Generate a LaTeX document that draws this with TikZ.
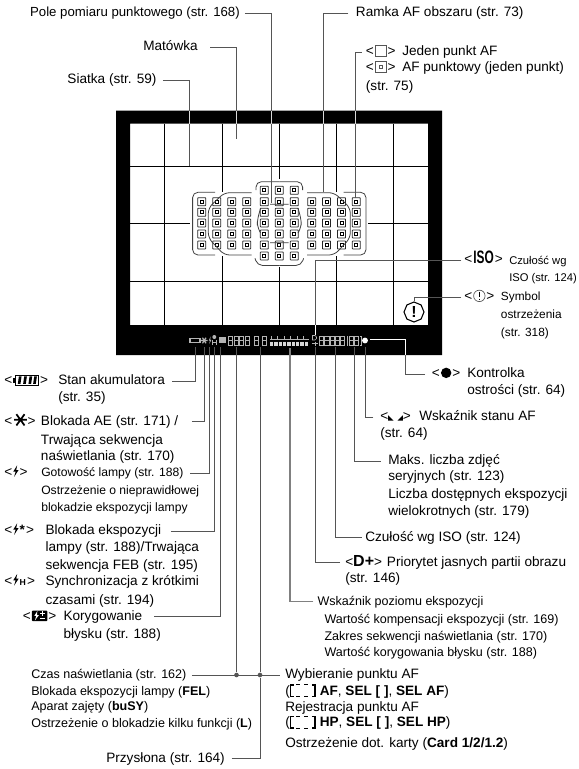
\documentclass[tikz,border=0pt]{standalone}
\usepackage{fontspec}
\setmainfont{Liberation Sans}
\usepackage{xcolor}
\usepackage{tikz}
\usetikzlibrary{shapes.geometric, positioning, calc}

\definecolor{leadgray}{HTML}{555555}
\definecolor{lcdgray}{HTML}{B4B4B4}

% symbols that stand between < and > in the labels
\newcommand{\battsym}{\tikz[baseline=0pt,x=1pt,y=1pt]{\draw[line width=.7pt] (1.5,-.4) rectangle (19,7.2);\fill (0,1.5) rectangle (1.5,5.3);\foreach \bx in {4,8,12,15.5}{\fill (\bx-.6,.6)--(\bx+1.4,.6)--(\bx+2.2,6.2)--(\bx+.2,6.2)--cycle;}}}
\newcommand{\aesym}{\tikz[baseline=0pt,x=1pt,y=1pt]{\draw[line width=1.3pt] (0,4)--(9.5,4) (1.7,8.2)--(7.8,-.2) (7.8,8.2)--(1.7,-.2);}}
\newcommand{\boltsym}{\tikz[baseline=0pt,x=1pt,y=1pt]{\fill (3.5,8.5)--(.6,3.8)--(2.4,3.8)--(1.2,-.2)--(4.6,5)--(2.8,5)--cycle;}}
\newcommand{\fecsym}{\tikz[baseline=0pt,x=1pt,y=1pt]{\fill[rounded corners=.6pt] (0,-.6) rectangle (11.5,7.4);\fill[white] (4,7)--(1.8,3.4)--(3.2,3.4)--(2.2,0)--(5.2,4)--(3.8,4)--cycle;\draw[white,line width=.7pt] (6,5)--(9.6,5) (7.8,3.2)--(7.8,6.8) (6,1.4)--(9.6,1.4);}}
\newcommand{\afsym}{\tikz[baseline=0pt,x=1pt,y=1pt]{\draw[leadgray,line width=.6pt] (0,-.4) rectangle (8,7.6);}}
\newcommand{\afspotsym}{\tikz[baseline=0pt,x=1pt,y=1pt]{\draw[leadgray,line width=.6pt] (0,-.4) rectangle (8,7.6) (2.7,2.3) rectangle (5.3,4.9);}}
\newcommand{\warnsym}{\tikz[baseline=0pt,x=1pt,y=1pt]{\draw[leadgray,line width=.5pt] (4.5,3.6) circle (4.3pt);\draw[line width=1.1pt] (4.5,6.6)--(4.5,2.4) (4.5,1.6)--(4.5,.6);}}
\newcommand{\focsym}{\tikz[baseline=0pt,x=1pt,y=1pt]{\fill (4,3.6) circle (3.9pt);}}
\newcommand{\afstatesym}{\tikz[baseline=0pt,x=1pt,y=1pt]{\fill (1,4)--(1,0)--(5,0)--cycle (8,0)--(12,0)--(12,4)--cycle;}}
\newcommand{\dashbr}{\tikz[baseline=0pt,x=1pt,y=1pt]{\draw[line width=1.2pt] (3,7.6)--(.6,7.6)--(.6,-1)--(3,-1) (16.5,7.6)--(18.9,7.6)--(18.9,-1)--(16.5,-1);\draw[line width=.7pt] (5,7.8)--(7.8,7.8) (11,7.8)--(13.8,7.8) (5,-1.2)--(7.8,-1.2) (11,-1.2)--(13.8,-1.2);}}

\begin{document}
\begin{tikzpicture}[
    x=.75pt, y=-.75pt,
    lbl/.style={anchor=west, inner sep=0pt, text height=8pt, text depth=2.5pt, font=\fontsize{10.2}{12}\selectfont},
    lblsm/.style={lbl, font=\fontsize{9.4}{11}\selectfont},
    lblfl/.style={lbl, font=\fontsize{9.1}{11}\selectfont},
    lblwn/.style={lbl, font=\fontsize{8.9}{10}\selectfont},
    lblxs/.style={lbl, font=\fontsize{8.4}{10}\selectfont},
    nextline/.style args={#1 at #2}{below=#1 of #2.west, anchor=west},
    leader/.style={draw=leadgray, line width=.75pt},
    gridline/.style={draw=black, line width=.75pt},
    afpoint/.style={rectangle, draw=black!85, line width=.6pt, inner sep=0pt, minimum size=6pt, rounded corners=.4pt},
    afcore/.style={rectangle, draw=black, line width=.7pt, inner sep=0pt, minimum size=2.2pt},
    junction/.style={circle, fill=leadgray, inner sep=0pt, minimum size=3.5pt},
    lcd/.style={draw=lcdgray, line width=.5pt},
    afhalf/.pic={
      \draw[draw=black!75, line width=.6pt, rounded corners=4pt]
        (-64.3,192.3) -- (-86.7,192.3) -- (-86.7,255) -- (-64.3,255)
        (-27.7,192.7) -- (-55,192.7) -- (-71,208) -- (-71,238) -- (-55,255) -- (-27.7,255)
        (-23.3,190) -- (-23.3,181.7) -- (0,181.7)
        (-24.3,258.3) -- (-22,265.5) -- (0,265.5)
        (-9.3,204.3) -- (0,204.3) (-9.3,242.7) -- (0,242.7)
        (-18.7,208) -- (-22,220) -- (-22,227) -- (-18.7,233);
    }
]
\useasboundingbox (0,0) rectangle (579,769);

% viewfinder
\fill[black, even odd rule] (116,110.7) rectangle (442,355) (130,123.5) rectangle (428,325);
\draw[gridline] (130,166) -- (428,166) (130,281.7) -- (428,281.7);
\draw[gridline] (130,223) -- (190,223) (368,223) -- (428,223);
\draw[gridline] (164.5,123.5) -- (164.5,325) (393,123.5) -- (393,325);
\draw[gridline] (222,123.5) -- (222,192) (222,256) -- (222,325);
\draw[gridline] (279.3,123.5) -- (279.3,179) (279.3,267) -- (279.3,325);
\draw[gridline] (336.5,123.5) -- (336.5,192) (336.5,256) -- (336.5,325);

% AF points
\foreach \cx in {201.7,216.7,231.7,246.7,264.3,279.3,294.3,311.7,326.5,341.5,356.3}{
  \foreach \cy in {201.7,212.3,223,234,245}{
    \node[afpoint, fill=white] (pt) at (\cx,\cy) {};
    \node[afcore] (ptc) at (pt) {};
  }
}
\foreach \cx in {264.3,279.3,294.3}{
  \foreach \cy in {190.3,256}{
    \node[afpoint, fill=white] (pt) at (\cx,\cy) {};
    \node[afcore] (ptc) at (pt) {};
  }
}
\pic at (279.3,0) {afhalf};
\pic[xscale=-1] at (279.3,0) {afhalf};

% warning sign
\node[regular polygon, regular polygon sides=8, shape border rotate=22.5, draw, line width=.8pt, minimum size=15pt, inner sep=0pt, font=\fontsize{12}{12}\bfseries\selectfont] (warnicon) at (414,312) {!};

% display strip
\draw[lcd, line width=.8pt] (190,338.5) rectangle (200,342.5);
\draw[lcd, line width=.9pt] (201,340.5) -- (207.5,340.5) (202.5,337.7) -- (206,343.3) (206,337.7) -- (202.5,343.3);
\fill[lcdgray] (210.6,336.5) -- (208.8,340.5) -- (210,340.5) -- (209.2,344) -- (211.4,339.8) -- (210.2,339.8) -- cycle;
\fill[lcdgray] (214.3,337) circle (1.5pt);
\draw[lcd] (212.5,340) -- (212.5,345) (216,340) -- (216,345) (212.5,342.5) -- (216,342.5);
\fill[lcdgray] (218.5,337) rectangle (226,343);
\foreach \dx in {228.5,234,239.5,245,254.5,262,319.5,324.8,330,335.3,340.5,349.5,354.5}{
  \draw[lcd] (\dx,336) rectangle ++(4.3,9) (\dx,340.5) -- ++(4.3,0);
}
\draw[lcd] (348,336) -| (347,345) -- (348,345) (360,336) -| (361,345) -- (360,345);
\foreach \mx in {270,271.3,...,309}{
  \draw[draw=white!85!black, line width=.6pt] (\mx,341.5) -- (\mx,345.7);
}
\draw[lcd] (270,339) -- (309,339);
\foreach \mx in {271,277.5,...,309}{
  \draw[lcd] (\mx,339) -- (\mx,335.8);
}
\draw[lcd] (312.5,335.5) -- (312.5,340) -- (315,340) -- (316.5,338.5) -- (316.5,337) -- (315,335.5) -- cycle;
\draw[lcd] (312,343.5) -- (318,343.5) (315,341.5) -- (315,345.5);
\fill[white] (365,340.5) circle (2.2pt);

% where the leaders end
\coordinate (grid) at (189.5,166);
\coordinate (screen) at (236.5,139);
\coordinate (spot) at (271.7,203);
\coordinate (frame) at (323.5,192);
\coordinate (single) at (355.7,198);
\coordinate (lcdiso) at (315.7,335);
\coordinate (lcdfoc) at (370,339.3);
\coordinate (focbend) at (405,339.3);
\coordinate (lcdbatt) at (195.7,347);
\coordinate (lcdae) at (204,347);
\coordinate (lcdflash) at (209.5,347);
\coordinate (lcdfel) at (214.3,347);
\coordinate (lcdfec) at (220.5,347);
\coordinate (lcdtime) at (236.5,347);
\coordinate (lcdav) at (260,347);
\coordinate (lcdexp) at (290,348);
\coordinate (lcdhigh) at (315.7,347);
\coordinate (lcdsens) at (335,347);
\coordinate (lcdmax) at (354.3,347);
\coordinate (lcdstate) at (365,347);

% top labels
\node[lbl, anchor=east, font=\fontsize{9.9}{12}\selectfont] (pole) at (240,13) {Pole pomiaru punktowego (str. 168)};
\node[lbl, anchor=east] (matowka) at (198,47) {Matówka};
\node[lbl, anchor=east] (siatka) at (156.7,80) {Siatka (str. 59)};
\node[lbl] (ramka) at (355.7,13) {Ramka AF obszaru (str. 73)};
\node[lbl] (jedensym) at (365.7,52) {<\hspace{.8pt}\afsym\hspace{.8pt}>};
\node[lbl] (jeden) at (402,52) {Jeden punkt AF};
\node[lbl] (afspotkey) at (365.7,68) {<\hspace{.8pt}\afspotsym\hspace{.8pt}>};
\node[lbl] (afspot) at (402,68) {AF punktowy (jeden punkt)};
\node[lbl, nextline={14pt at afspotkey}] (afstr) {(str. 75)};

% right labels
\node[lbl] (isosym) at (464,260) {<\hspace{.8pt}\scalebox{.66}[1]{\fontsize{13.5}{13.5}\bfseries\selectfont ISO}\hspace{.8pt}>};
\node[lblxs] (isotxt) at (509,261) {Czułość wg};
\node[lblxs, nextline={12.5pt at isotxt}] (isotxtb) {ISO (str. 124)};
\node[lbl] (warnkey) at (464,297) {<\hspace{.8pt}\warnsym\hspace{.8pt}>};
\node[lblwn] (warntxt) at (500.7,297) {Symbol};
\node[lblwn, nextline={13.5pt at warntxt}] (warntxtb) {ostrzeżenia};
\node[lblwn, nextline={13.3pt at warntxtb}] (warntxtc) {(str. 318)};
\node[lbl] (fockey) at (431.7,374) {<\hspace{.8pt}\focsym\hspace{.8pt}>};
\node[lbl] (foctxt) at (467,374) {Kontrolka};
\node[lbl, nextline={12.75pt at foctxt}] (foctxtb) {ostrości (str. 64)};
\node[lbl] (statekey) at (380,417) {<\afstatesym>};
\node[lbl] (statetxt) at (419,417) {Wskaźnik stanu AF};
\node[lbl, nextline={12.75pt at statekey}] (statetxtb) {(str. 64)};
\node[lbl] (maks) at (388,461) {Maks. liczba zdjęć};
\node[lbl, nextline={12pt at maks}] (maksb) {seryjnych (str. 123)};
\node[lbl, nextline={13.5pt at maksb}] (maksc) {Liczba dostępnych ekspozycji};
\node[lbl, nextline={12.5pt at maksc}] (maksd) {wielokrotnych (str. 179)};
\node[lbl] (sens) at (365,537.5) {Czułość wg ISO (str. 124)};
\node[lbl] (highkey) at (345,562.5) {<{\fontsize{12}{12}\bfseries\selectfont D+}>};
\node[lbl] (hightxt) at (386.7,562.5) {Priorytet jasnych partii obrazu};
\node[lbl, nextline={12.5pt at highkey}] (hightxtb) {(str. 146)};
\node[lblsm] (wsk) at (317.3,601.5) {Wskaźnik poziomu ekspozycji};
\node[lblsm] (wskb) at (324.3,620) {Wartość kompensacji ekspozycji (str. 169)};
\node[lblsm, nextline={12.5pt at wskb}] (wskc) {Zakres sekwencji naświetlania (str. 170)};
\node[lblsm, nextline={12.25pt at wskc}] (wskd) {Wartość korygowania błysku (str. 188)};

% left labels
\node[lbl] (battkey) at (4,381) {<\hspace{.8pt}\battsym\hspace{.8pt}>};
\node[lbl] (batt) at (58,381) {Stan akumulatora};
\node[lbl, nextline={12.5pt at batt}] (battb) {(str. 35)};
\node[lbl] (aekey) at (4,421.5) {<\hspace{.8pt}\aesym>};
\node[lbl] (ae) at (40.7,421.5) {Blokada AE (str. 171) /};
\node[lbl, nextline={14.2pt at ae}] (aeb) {Trwająca sekwencja};
\node[lbl, nextline={12.5pt at aeb}] (aec) {naświetlania (str. 170)};
\node[lbl] (flashkey) at (4,473) {<\hspace{.8pt}\boltsym\hspace{.8pt}>};
\node[lblfl] (flash) at (41,473) {Gotowość lampy (str. 188)};
\node[lblfl, nextline={13.5pt at flash}] (flashb) {Ostrzeżenie o nieprawidłowej};
\node[lblfl, nextline={12.75pt at flashb}] (flashc) {blokadzie ekspozycji lampy};
\node[lbl] (felkey) at (4,531) {<\hspace{.8pt}\boltsym\hspace{.8pt}{\bfseries*}\hspace{.8pt}>};
\node[lbl] (fel) at (45.3,531) {Blokada ekspozycji};
\node[lbl, nextline={12.5pt at fel}] (felb) {lampy (str. 188)/Trwająca};
\node[lbl, nextline={13.5pt at felb}] (felc) {sekwencja FEB (str. 195)};
\node[lbl] (synckey) at (4,581.7) {<\hspace{.8pt}\boltsym\hspace{.8pt}{\fontsize{6.5}{7}\bfseries\selectfont H}\hspace{.8pt}>};
\node[lbl] (sync) at (45.3,581.7) {Synchronizacja z krótkimi};
\node[lbl, nextline={14.2pt at sync}] (syncb) {czasami (str. 194)};
\node[lbl] (feckey) at (22.7,616.7) {<\hspace{.8pt}\fecsym\hspace{.8pt}>};
\node[lbl] (fec) at (63.3,616.7) {Korygowanie};
\node[lbl, nextline={13.7pt at fec}] (fecb) {błysku (str. 188)};

% bottom labels
\node[lblsm] (czas) at (31,675) {Czas naświetlania (str. 162)};
\node[lblsm, nextline={12.5pt at czas}] (czasb) {Blokada ekspozycji lampy (\textbf{FEL})};
\node[lblsm, nextline={11.5pt at czasb}] (czasc) {Aparat zajęty (\textbf{buSY})};
\node[lblsm, nextline={12.75pt at czasc}] (czasd) {Ostrzeżenie o blokadzie kilku funkcji (\textbf{L})};
\node[lbl, anchor=east] (przyslona) at (225,758.5) {Przysłona (str. 164)};
\node[lbl] (wyb) at (285,675) {Wybieranie punktu AF};
\node[lbl, nextline={12.5pt at wyb}] (wybb) {(\dashbr\hspace{3pt}\textbf{AF}, \textbf{SEL [ ]}, \textbf{SEL AF})};
\node[lbl, nextline={12pt at wybb}] (wybc) {Rejestracja punktu AF};
\node[lbl, nextline={11.5pt at wybc}] (wybd) {(\dashbr\hspace{3pt}\textbf{HP}, \textbf{SEL [ ]}, \textbf{SEL HP})};
\node[lbl, nextline={15.75pt at wybd}] (wybe) {Ostrzeżenie dot. karty (\textbf{Card 1/2/1.2})};

% leaders
\draw[leader] ([xshift=3.7pt]pole.east) -| (spot);
\draw[leader] ([xshift=9pt]matowka.east) -| (screen);
\draw[leader] ([xshift=4.7pt]siatka.east) -| (grid);
\draw[leader] ([xshift=-5.5pt]ramka.west) -| (frame);
\draw[leader] ([xshift=-2.8pt]jedensym.west) -| (single);
\draw[leader] ([xshift=-2pt]isosym.west) -| (lcdiso);
\draw[leader] ([xshift=-2pt]warnkey.west) -| (warnicon.north);
\draw[leader] ([xshift=-5pt]fockey.west) -| (focbend);
\draw[leader] ([xshift=5.5pt]batt.east) -| (lcdbatt);
\draw[leader] ([xshift=10pt]ae.east) -| (lcdae);
\draw[leader] ([xshift=5pt]flash.east) -| (lcdflash);
\draw[leader] ([xshift=7pt]fel.east) -| (lcdfel);
\draw[leader] ([xshift=9pt]fec.east) -| (lcdfec);
\draw[leader] ([xshift=-5pt]statekey.west) -| (lcdstate);
\draw[leader] ([xshift=-5.5pt]maks.west) -| (lcdmax);
\draw[leader] ([xshift=-2.5pt]sens.west) -| (lcdsens);
\draw[leader] ([xshift=-3.7pt]highkey.west) -| (lcdhigh);
\draw[leader, draw=gray, line width=1.2pt] ([xshift=-3pt]wsk.west) -| (lcdexp);
\node[junction] (jtime) at (lcdtime |- czas.east) {};
\node[junction] (jav) at (lcdav |- czas.east) {};
\draw[leader] ([xshift=4pt]czas.east) -- ([xshift=-4pt]wyb.west);
\draw[leader] (lcdtime) -- (jtime);
\draw[leader] (lcdav) -- (jav);
\draw[leader] ([xshift=5pt]przyslona.east) -| (jav);

% lighter where they cross the black frame
\foreach \lx in {189.5,236.5,271.7,323.5,355.7}{
  \draw[draw=white!85!black, line width=.75pt] (\lx,110.7) -- (\lx,123.5);
}
\draw[draw=white, line width=.75pt] (lcdiso) -- (lcdiso |- 0,325);
\draw[draw=white, line width=.75pt] (lcdfoc) -- (focbend) -- (focbend |- 0,355);
\end{tikzpicture}
\end{document}
